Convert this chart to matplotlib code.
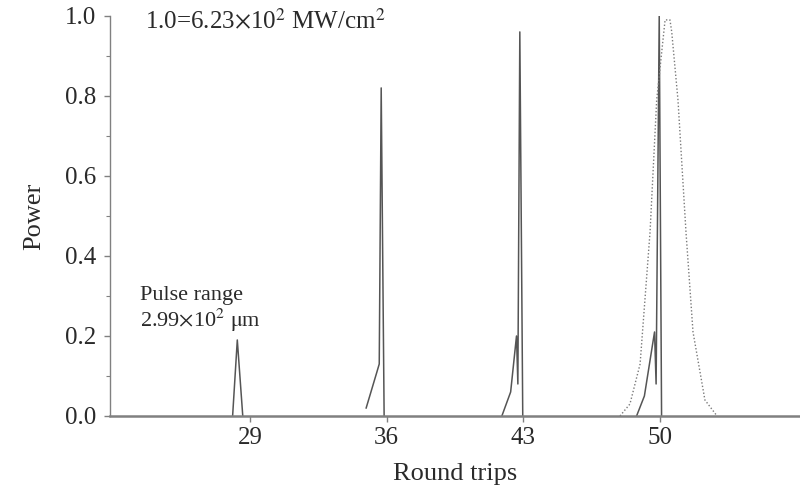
import numpy as np
import matplotlib
matplotlib.use("Agg")
import matplotlib.pyplot as plt
from matplotlib.ticker import MultipleLocator

# -------------------------------------------------
# Data (round trips vs normalised power)
# -------------------------------------------------
pulse_29_x = [28.11, 28.35, 28.63]
pulse_29_y = [0.0, 0.19, 0.0]

pulse_36_x = [34.95, 35.50, 35.62, 35.72, 35.87]
pulse_36_y = [0.02, 0.11, 0.13, 0.82, 0.0]

pulse_43_x = [41.90, 42.35, 42.65, 42.72, 42.82, 42.97]
pulse_43_y = [0.0, 0.06, 0.20, 0.08, 0.96, 0.0]

pulse_50_x = [48.80, 49.20, 49.72, 49.80, 49.96, 50.08]
pulse_50_y = [0.0, 0.05, 0.21, 0.08, 1.00, 0.0]

dotted_x = [47.95, 48.46, 48.98, 49.49, 49.83, 50.26, 50.51, 50.60,
            50.92, 51.33, 51.69, 52.30, 52.92]
dotted_y = [0.0, 0.03, 0.13, 0.46, 0.79, 0.99, 0.99, 0.96,
            0.79, 0.46, 0.21, 0.04, 0.0]

x_ticks = [29, 36, 43, 50]
y_ticks = [0.0, 0.2, 0.4, 0.6, 0.8, 1.0]

LINE_COL = "#555555"
AXIS_COL = "#808080"
TEXT_COL = "#2a2a2a"

plt.rcParams["font.family"] = ["Liberation Serif", "DejaVu Serif"]
plt.rcParams["mathtext.fontset"] = "stix"

fig = plt.figure(figsize=(8.0, 4.97), dpi=100)
ax = fig.add_axes([0.1375, 0.163, 0.8625, 0.805])

for xs, ys in [(pulse_29_x, pulse_29_y), (pulse_36_x, pulse_36_y),
               (pulse_43_x, pulse_43_y), (pulse_50_x, pulse_50_y)]:
    ax.plot(xs, ys, color=LINE_COL, lw=1.1)

ax.plot(dotted_x, dotted_y, color="#7a7a7a", lw=1.0, ls=(0, (1, 1.5)))

ax.set_xlim(21.83, 57.17)
ax.set_ylim(0.0, 1.0)
ax.set_xticks(x_ticks)
ax.set_yticks(y_ticks)
ax.set_yticklabels([f"{v:.1f}" for v in y_ticks])
ax.yaxis.set_minor_locator(MultipleLocator(0.1))

for side in ["top", "right"]:
    ax.spines[side].set_visible(False)
ax.spines["left"].set_color(AXIS_COL)
ax.spines["left"].set_linewidth(1.0)
ax.spines["bottom"].set_color(AXIS_COL)
ax.spines["bottom"].set_linewidth(1.8)

ax.tick_params(axis="both", which="major", direction="out", length=4,
               width=1.0, color=AXIS_COL, labelsize=18, labelcolor=TEXT_COL)
ax.tick_params(axis="y", which="minor", direction="out", length=3,
               width=0.8, color=AXIS_COL)
ax.tick_params(axis="y", pad=6)
ax.tick_params(axis="x", pad=4)

ax.set_xlabel("Round trips", fontsize=19, color=TEXT_COL, labelpad=10)
ax.set_ylabel("Power", fontsize=19, color=TEXT_COL, labelpad=14)

ax.text(23.6, 0.985, r"1.0=6.23$\times$10$^2$ MW/cm$^2$", fontsize=18,
        color=TEXT_COL, va="center", ha="left")
ax.text(23.35, 0.30, "Pulse range", fontsize=16, color=TEXT_COL,
        va="center", ha="left")
ax.text(23.35, 0.24, r"2.99$\times$10$^2$ $\mathrm{\mu}$m", fontsize=16,
        color=TEXT_COL, va="center", ha="left")

fig.savefig("out.png", dpi=100)
